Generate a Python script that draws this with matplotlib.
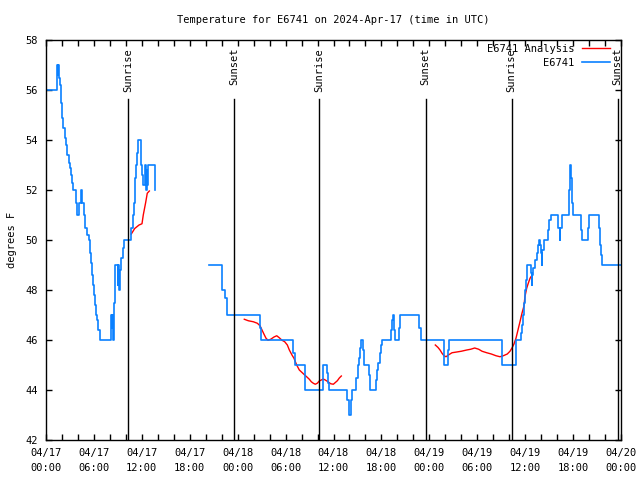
import numpy as np
import pandas as pd
import matplotlib
matplotlib.use("Agg")
import matplotlib.pyplot as plt
import matplotlib.dates as mdates
import matplotlib.transforms as mtransforms

# hours after 2024-04-17 00:00 UTC, temperatures in degrees F
obs_hours_a = [0.00, 1.34, 1.44, 1.50, 1.57, 1.75, 1.92, 2.00, 2.17, 2.34, 2.50, 2.67,
               2.84, 3.01, 3.13, 3.26, 3.42, 3.79, 3.94, 4.17, 4.32, 4.57, 4.76, 4.92,
               5.17, 5.35, 5.47, 5.64, 5.76, 5.89, 6.01, 6.17, 6.30, 6.42, 6.55, 6.76,
               8.10, 8.23, 8.30, 8.39, 8.55, 8.68, 8.98, 9.06, 9.14, 9.27, 9.43, 9.60,
               9.77, 10.68, 10.86, 10.98, 11.11, 11.18, 11.27, 11.39, 11.52, 11.86,
               11.93, 12.06, 12.18, 12.36, 12.48, 12.61, 12.68, 12.77, 13.65]
obs_temp_a = [56.0, 57.0, 56.6, 57.0, 56.5, 56.2, 55.5, 54.9, 54.5, 54.1, 53.8, 53.4,
              53.1, 52.9, 52.6, 52.3, 52.0, 51.5, 51.0, 51.5, 52.0, 51.5, 51.0, 50.5,
              50.2, 50.0, 49.5, 49.1, 48.6, 48.2, 47.8, 47.4, 47.0, 46.8, 46.4, 46.0,
              47.0, 46.5, 47.0, 46.0, 47.5, 49.0, 48.2, 49.0, 48.0, 48.8, 49.3, 49.7,
              50.0, 50.5, 51.0, 51.5, 52.0, 52.5, 53.0, 53.5, 54.0, 53.5,
              53.0, 52.6, 52.2, 53.0, 52.0, 52.8, 52.2, 53.0, 52.0]

obs_hours_b = [20.45, 22.00, 22.08, 22.45, 22.63, 22.70, 26.83, 26.96, 30.97, 31.14,
               32.47, 34.72, 35.19, 35.31, 35.48, 37.73, 37.91, 38.23, 38.36, 38.82,
               39.07, 39.23, 39.32, 39.45, 39.74, 39.86, 40.48, 40.61, 41.32, 41.48,
               41.61, 41.78, 41.91, 42.04, 43.20, 43.33, 43.49, 43.58, 43.67, 44.16,
               44.33, 46.74, 46.92, 49.87, 50.37, 50.46, 57.06, 58.82, 58.89, 59.44,
               59.57, 59.69, 59.82, 59.94, 60.11, 60.23, 60.73, 60.82, 60.90, 60.99,
               61.20, 61.45, 61.61, 61.74, 61.86, 61.95, 62.07, 62.15, 62.40, 62.90,
               63.03, 63.24, 64.16, 64.33, 64.41, 64.58, 65.49, 65.66, 65.75, 65.83,
               65.91, 65.99, 66.95, 67.03, 67.16, 67.91, 68.00, 69.28, 69.41, 69.54,
               69.66, 72.00]
obs_temp_b = [49.0, 48.7, 48.0, 47.7, 47.4, 47.0, 46.5, 46.0, 45.5, 45.0,
              44.0, 45.0, 44.7, 44.3, 44.0, 43.6, 43.0, 43.6, 44.0, 44.5,
              45.0, 45.3, 45.7, 46.0, 45.6, 45.0, 44.6, 44.0, 44.4, 44.8,
              45.1, 45.5, 45.8, 46.0, 46.4, 46.8, 47.0, 46.4, 46.0, 46.5,
              47.0, 46.5, 46.0, 45.0, 45.6, 46.0, 45.0, 45.5, 46.0, 46.3,
              46.6, 47.0, 47.5, 48.0, 48.4, 49.0, 48.7, 48.2, 48.6, 48.9,
              49.2, 49.5, 49.8, 50.0, 49.8, 49.5, 49.0, 49.6, 50.0, 50.4,
              50.8, 51.0, 50.5, 50.0, 50.5, 51.0, 52.0, 53.0, 52.5, 52.0,
              51.5, 51.0, 50.7, 50.4, 50.0, 50.5, 51.0, 50.5, 49.8, 49.4,
              49.0, 49.0]

fit_hours_a = [10.68, 11.11, 11.65, 12.02, 12.18, 12.48, 12.68, 12.94]
fit_temp_a = [50.24, 50.46, 50.60, 50.65, 51.00, 51.50, 51.87, 51.96]

fit_hours_b = [24.83, 25.33, 25.96, 26.46, 26.80, 27.05, 27.30, 27.55, 27.80, 28.14,
               28.55, 28.89, 29.21, 29.55, 29.89, 30.22, 30.47, 30.80, 31.05, 31.39,
               31.72, 32.06, 32.39, 32.64, 32.97, 33.22, 33.47, 33.72, 33.97, 34.22,
               34.47, 34.72, 34.97, 35.31, 35.65, 35.98, 36.23, 36.48, 36.73, 36.98]
fit_temp_b = [46.83, 46.77, 46.73, 46.67, 46.57, 46.40, 46.23, 46.07, 45.99, 46.03,
              46.12, 46.17, 46.09, 45.99, 45.93, 45.80, 45.60, 45.40, 45.27, 45.00,
              44.80, 44.70, 44.60, 44.53, 44.43, 44.33, 44.27, 44.23, 44.27, 44.36,
              44.40, 44.44, 44.40, 44.33, 44.25, 44.23, 44.30, 44.37, 44.48, 44.56]

fit_hours_c = [48.75, 49.09, 49.34, 49.59, 49.84, 50.09, 50.43, 50.84, 51.43, 52.00,
               52.68, 53.18, 53.68, 54.18, 54.60, 55.19, 55.76, 56.35, 56.85, 57.26,
               57.76, 58.10, 58.35, 58.60, 58.85, 59.10, 59.35, 59.60, 59.85, 59.97,
               60.19, 60.39, 60.61, 60.73]
fit_temp_c = [45.80, 45.70, 45.60, 45.47, 45.37, 45.33, 45.41, 45.49, 45.52, 45.55,
              45.60, 45.63, 45.68, 45.63, 45.55, 45.49, 45.44, 45.37, 45.33, 45.37,
              45.44, 45.55, 45.68, 45.84, 46.07, 46.40, 46.73, 47.07, 47.36, 47.73,
              48.07, 48.27, 48.47, 48.53]

sunrise_hours = [10.30, 34.24, 58.30]
sunset_hours = [23.60, 47.53, 71.58]

start = pd.Timestamp("2024-04-17 00:00")


def to_time(hours):
    return start + pd.to_timedelta(np.array(hours), unit="h")


font = "DejaVu Sans Mono"
fs = 7.5
plt.rcParams["font.family"] = font

fig = plt.figure(figsize=(6.4, 4.8), dpi=100)
ax = fig.add_axes([46 / 640, 40 / 480, 575 / 640, 400 / 480])

blue = "#0a80ff"
ax.plot(to_time(fit_hours_a), fit_temp_a, color="red", lw=1.0, label="E6741 Analysis")
ax.plot(to_time(fit_hours_b), fit_temp_b, color="red", lw=1.0)
ax.plot(to_time(fit_hours_c), fit_temp_c, color="red", lw=1.0)
ax.plot(to_time(obs_hours_a), obs_temp_a, color=blue, lw=1.2, drawstyle="steps-post", label="E6741")
ax.plot(to_time(obs_hours_b), obs_temp_b, color=blue, lw=1.2, drawstyle="steps-post")

# sunrise / sunset markers
trans = mtransforms.blended_transform_factory(ax.transData, ax.transAxes)
for name, hours in [("Sunrise", sunrise_hours), ("Sunset", sunset_hours)]:
    for t in to_time(hours):
        ax.axvline(t, ymin=0, ymax=0.852, color="black", lw=1.0)
        ax.text(t, 0.98, name, rotation=90, ha="center", va="top",
                transform=trans, fontsize=fs)

ax.set_xlim(start, start + pd.Timedelta(hours=72))
ax.set_ylim(42, 58)
ax.set_yticks(np.arange(42, 59, 2))
ax.xaxis.set_major_locator(mdates.HourLocator(byhour=[0, 6, 12, 18]))
ax.xaxis.set_minor_locator(mdates.HourLocator(byhour=range(0, 24, 2)))
ax.xaxis.set_major_formatter(mdates.DateFormatter("%m/%d\n%H:%M"))
ax.tick_params(which="both", direction="in", top=True, right=True, length=4, width=1,
               labelsize=fs, pad=6)
for lab in ax.get_xticklabels():
    lab.set_linespacing(1.6)
for s in ax.spines.values():
    s.set_linewidth(1.0)

ax.set_ylabel("degrees F", fontsize=fs, labelpad=6)
fig.text(333 / 640, 1 - 20 / 480, "Temperature for E6741 on 2024-Apr-17 (time in UTC)",
         ha="center", va="center", fontsize=fs)

ax.legend(loc="upper right", bbox_to_anchor=(0.981, 0.99), frameon=False,
          markerfirst=False, fontsize=fs, handlelength=2.7, handletextpad=0.7,
          labelspacing=0.35, borderpad=0, borderaxespad=0)

fig.savefig("out.png", dpi=100)
